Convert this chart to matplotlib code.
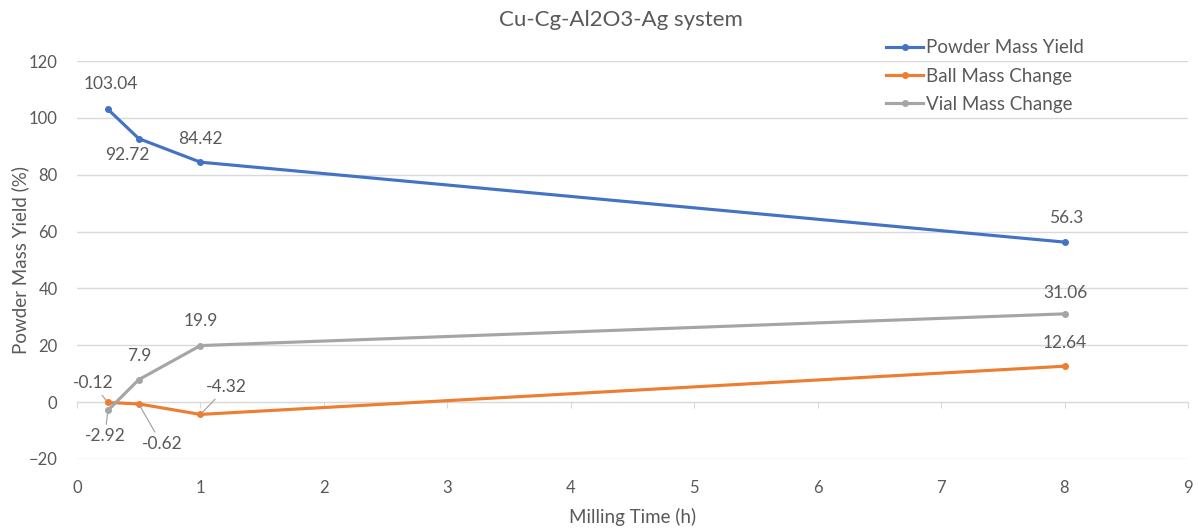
import matplotlib
matplotlib.use('Agg')
import matplotlib.pyplot as plt

plt.rcParams['font.family'] = ['Lato', 'DejaVu Sans']

# milling data
time_h = [0.25, 0.5, 1, 8]
powder_yield = [103.04, 92.72, 84.42, 56.3]
ball_change = [-0.12, -0.62, -4.32, 12.64]
vial_change = [-2.92, 7.9, 19.9, 31.06]

# label offsets in pixels (dx, dy) and whether a leader line is drawn
powder_off = [(3, 25), (-11, -16), (0, 23), (2, 24)]
ball_off = [(-15, 19), (23, -40), (26, 27), (0, 23)]
ball_leader = [True, True, True, False]
vial_off = [(-3, -26), (1, 24), (0, 25), (1, 21)]
vial_leader = [True, False, False, False]

txt = '#595959'
grid = '#D9D9D9'

fig = plt.figure(figsize=(11.99, 5.31), dpi=100)
ax = fig.add_axes([0.0642, 0.1356, 0.9266, 0.7495])

series = [
    ('Powder Mass Yield', powder_yield, '#4472C4', powder_off, [False] * 4),
    ('Ball Mass Change', ball_change, '#ED7D31', ball_off, ball_leader),
    ('Vial Mass Change', vial_change, '#A5A5A5', vial_off, vial_leader),
]

for name, vals, col, offs, leaders in series:
    ax.plot(time_h, vals, color=col, lw=2.25, marker='o', ms=4, label=name,
            zorder=3)
    for x, y, (dx, dy), lead in zip(time_h, vals, offs, leaders):
        props = dict(arrowstyle='-', color='#A6A6A6', lw=0.9,
                     shrinkA=1, shrinkB=2) if lead else None
        ax.annotate(f'{y:g}', (x, y), xytext=(dx, dy),
                    textcoords='offset pixels', ha='center', va='center',
                    fontsize=12.5, color=txt, arrowprops=props, zorder=4)

ax.set_xlim(0, 9)
ax.set_ylim(-20, 120)
ax.set_yticks(range(-20, 121, 20))
ax.set_xticks(range(0, 10))
ax.grid(axis='y', color=grid, lw=1)
ax.set_axisbelow(True)
for s in ['top', 'right', 'left']:
    ax.spines[s].set_visible(False)

# horizontal axis crosses at zero, labels stay at the bottom
ax.spines['bottom'].set_position(('data', 0))
ax.spines['bottom'].set_color(grid)
ax.tick_params(axis='x', length=4, color=grid, labelbottom=False)
ax.tick_params(axis='y', length=0, pad=14, labelsize=12, labelcolor=txt)
sec = ax.secondary_xaxis('bottom')
sec.spines['bottom'].set_visible(False)
sec.tick_params(length=0, pad=15, labelsize=12, labelcolor=txt)
sec.set_xticks(range(0, 10))
sec.set_xlabel('Milling Time (h)', fontsize=13.5, color=txt, labelpad=9)

ax.set_ylabel('Powder Mass Yield (%)', fontsize=13.5, color=txt, labelpad=0)
fig.suptitle('Cu-Cg-Al2O3-Ag system', x=0.518, y=0.982, fontsize=16,
             color=txt)

fig.legend(loc='upper left', bbox_to_anchor=(0.733, 0.94), frameon=False,
           fontsize=13.5, labelcolor=txt, handlelength=1.95,
           handletextpad=0.15, labelspacing=0.6, borderaxespad=0)

fig.savefig('out.png', dpi=100)
